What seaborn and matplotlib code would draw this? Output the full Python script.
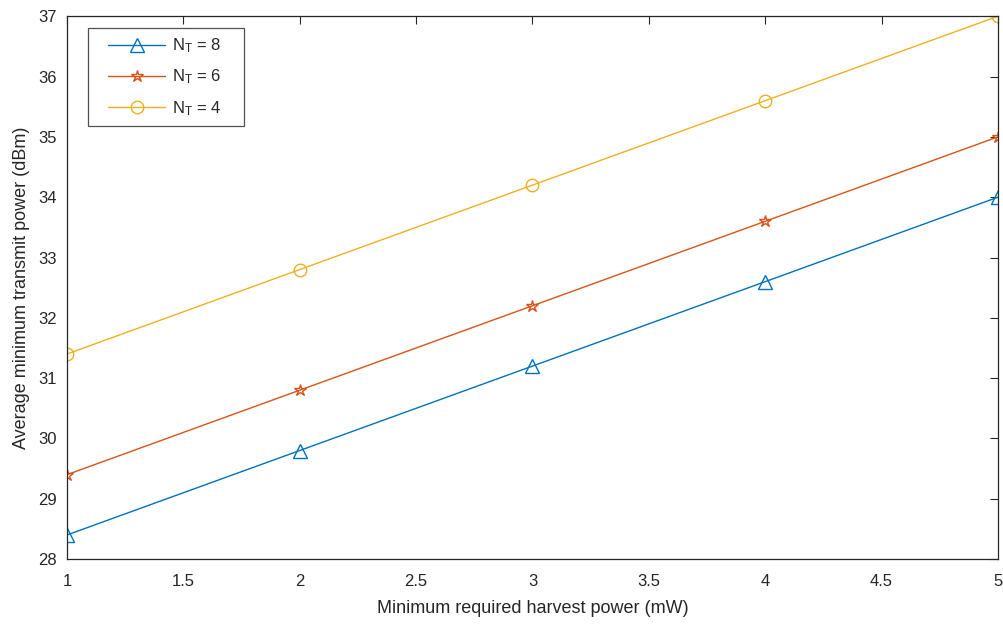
import numpy as np
import pandas as pd
import matplotlib.pyplot as plt
import seaborn as sns
from matplotlib.lines import Line2D
from matplotlib.legend_handler import HandlerLine2D

#data
harvest_power=[1,2,3,4,5]
p_nt8=[28.4,29.8,31.2,32.6,34.0]
p_nt6=[29.4,30.8,32.2,33.6,35.0]
p_nt4=[31.4,32.8,34.2,35.6,37.0]
labels=['$\\mathregular{N_T}$ = 8','$\\mathregular{N_T}$ = 6','$\\mathregular{N_T}$ = 4']

df=pd.DataFrame({
    'x':harvest_power*3,
    'y':p_nt8+p_nt6+p_nt4,
    'case':[labels[0]]*5+[labels[1]]*5+[labels[2]]*5
})

sns.set_style('white')
plt.rcParams['font.family']=['Liberation Sans','DejaVu Sans']
plt.rcParams['mathtext.fontset']='custom'
plt.rcParams['mathtext.rm']='Liberation Sans'

colors=['#0072BD','#D95319','#EDB120']#matlab default colors
markers=['^','*','o']
msizes=[10,9,9]

fig=plt.figure(figsize=(10.04,6.24),dpi=100)
ax=fig.add_axes([0.0667,0.104,0.9273,0.870])
sns.lineplot(data=df,x='x',y='y',hue='case',style='case',palette=colors,
             markers=markers,dashes=False,linewidth=1.0,legend=False,ax=ax)
for line,ms in zip(ax.lines,msizes):
    line.set_markerfacecolor('none')
    line.set_markeredgecolor(line.get_color())
    line.set_markersize(ms)
    line.set_markeredgewidth(1.0)

ax.set_xlim(1,5)
ax.set_ylim(28,37)
ax.set_xticks(np.arange(1,5.01,0.5))
ax.set_xticklabels(['1','1.5','2','2.5','3','3.5','4','4.5','5'])
ax.set_yticks(range(28,38))
ax.tick_params(direction='in',top=True,right=True,length=6,width=0.8,labelsize=12,colors='#262626')
ax.tick_params(axis='x',pad=11)
ax.tick_params(axis='y',pad=7)
for s in ax.spines.values():
    s.set_color('#262626')
    s.set_linewidth(0.9)
ax.set_xlabel('Minimum required harvest power (mW)',fontsize=13,color='#262626',labelpad=8)
ax.set_ylabel('Average minimum transmit power (dBm)',fontsize=13,color='#262626',labelpad=6)

#legend built by hand so markers stay hollow; xpad pushes the line away from the frame like matlab
handles=[Line2D([],[],color=c,marker=m,markersize=ms,markerfacecolor='none',markeredgewidth=1.0,linewidth=1.0)
         for c,m,ms in zip(colors,markers,msizes)]
leg_labels=[l+'    ' for l in labels]
leg=ax.legend(handles,leg_labels,loc='upper left',bbox_to_anchor=(0.0226,0.978),borderaxespad=0,fontsize=12,frameon=True,
              fancybox=False,edgecolor='#262626',handlelength=4.14,labelspacing=0.75,borderpad=0.5,
              handletextpad=0.4,handler_map={Line2D:HandlerLine2D(xpad=0.72)})
leg.get_frame().set_linewidth(0.9)

plt.savefig('out.png',dpi=100)
